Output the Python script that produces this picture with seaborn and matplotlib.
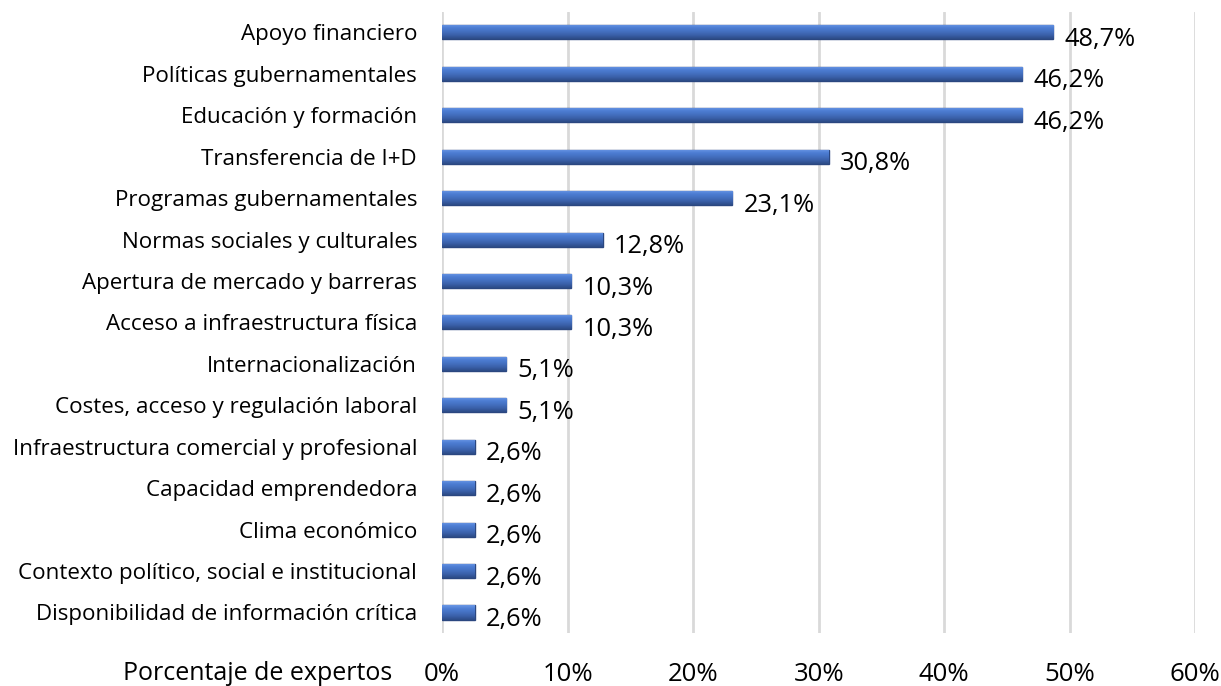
import numpy as np
import pandas as pd
import matplotlib
matplotlib.use('Agg')
import matplotlib.pyplot as plt
import seaborn as sns

# data
categorias = ['Apoyo financiero', 'Políticas gubernamentales', 'Educación y formación',
              'Transferencia de I+D', 'Programas gubernamentales',
              'Normas sociales y culturales', 'Apertura de mercado y barreras',
              'Acceso a infraestructura física', 'Internacionalización',
              'Costes, acceso y regulación laboral',
              'Infraestructura comercial y profesional', 'Capacidad emprendedora',
              'Clima económico', 'Contexto político, social e institucional',
              'Disponibilidad de información crítica']
porcentajes = [48.7, 46.2, 46.2, 30.8, 23.1, 12.8, 10.3, 10.3, 5.1, 5.1, 2.6, 2.6, 2.6, 2.6, 2.6]
ticks_x = [0, 10, 20, 30, 40, 50, 60]

df = pd.DataFrame({'cat': categorias, 'pct': porcentajes})

sns.set_theme(style='white')
plt.rcParams['font.family'] = ['Open Sans', 'DejaVu Sans']

fig = plt.figure(figsize=(12.21, 6.86), dpi=100)
ax = fig.add_axes([0.362, 0.077, 0.617, 0.906])

sns.barplot(data=df, x='pct', y='cat', color='#4472C4', width=0.34,
            edgecolor='#2B4780', linewidth=1.0, saturation=1, ax=ax, zorder=3)

# gradient shading on each bar (light top, dark bottom)
grad = np.linspace(0, 1, 64).reshape(-1, 1)
cmap = matplotlib.colors.LinearSegmentedColormap.from_list(
    'bev', ['#6A97E6', '#4D7DD3', '#4470C0', '#3A5FA8', '#2C4B86'])
for p in ax.patches:
    x0, y0 = p.get_x(), p.get_y()
    w, h = p.get_width(), p.get_height()
    im = ax.imshow(grad, extent=[x0, x0 + w, y0 + h, y0], aspect='auto',
                   cmap=cmap, zorder=4, interpolation='bilinear')
    im.set_clip_path(p)

ax.set_xlim(0, 60)
ax.set_ylim(14.5, -0.5)
ax.set_xticks(ticks_x)
ax.set_xticklabels([f'{t}%' for t in ticks_x], fontsize=18.5, color='#000000')
ax.tick_params(axis='x', length=0, pad=21)
ax.tick_params(axis='y', length=0, pad=18, labelsize=16.1, labelcolor='#000000')
ax.set_xlabel('')
ax.set_ylabel('')
ax.grid(axis='x', color='#D9D9D9', linewidth=2, zorder=0)
ax.grid(axis='y', visible=False)
for s in ax.spines.values():
    s.set_visible(False)

for i, v in enumerate(porcentajes):
    ax.text(v + 0.9, i + 0.17, f'{v:.1f}%'.replace('.', ','), fontsize=18.3,
            va='center', ha='left', color='#000000', zorder=5)

fig.text(0.321, 0.0085, 'Porcentaje de expertos', fontsize=18, ha='right',
         va='baseline', color='#000000')

fig.savefig('out.png', dpi=100)
